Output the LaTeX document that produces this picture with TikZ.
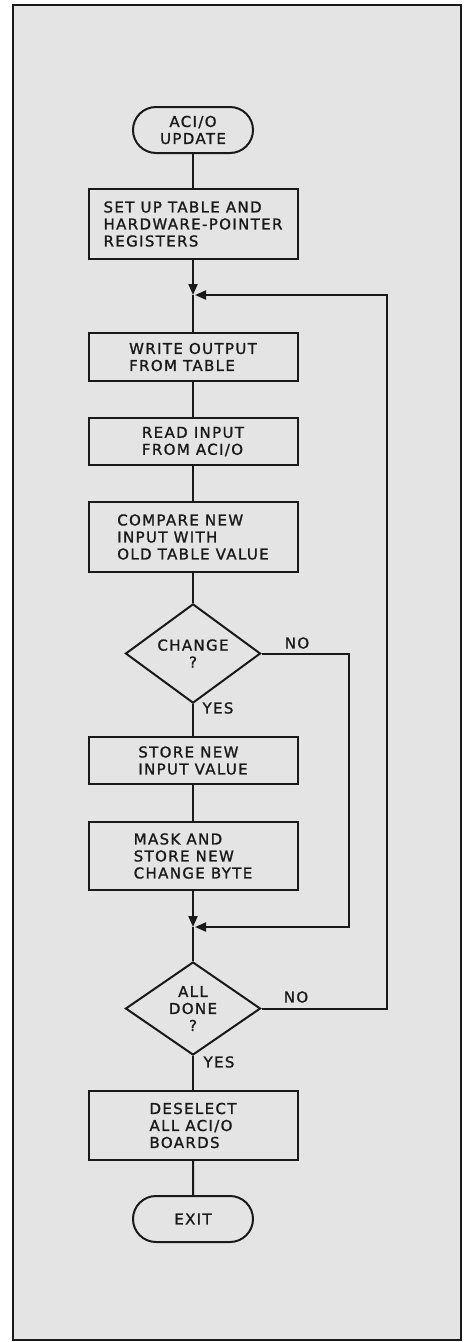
\documentclass[tikz,border=0pt]{standalone}
\usepackage{fontspec}
\setmainfont{DejaVu Sans}[LetterSpace=9,FakeBold=1.2]
\usetikzlibrary{shapes.geometric,shapes.misc,arrows.meta}
\definecolor{paper}{RGB}{228,228,228}
\definecolor{ink}{RGB}{25,25,25}
\begin{document}
\begin{tikzpicture}[x=1pt,y=-1pt,
  line width=2pt, draw=ink,
  every node/.style={font=\fontsize{15}{17}\selectfont, text=ink},
  procbox/.style={draw=ink, line width=2pt, rectangle, minimum width=209pt, inner sep=0pt, align=left},
  term/.style={draw=ink, line width=2pt, rounded rectangle, minimum width=120pt, minimum height=46pt, inner sep=0pt, align=center},
  decision/.style={draw=ink, line width=2pt, diamond, minimum width=135pt, minimum height=88pt, inner sep=0pt, align=center},
  arr/.style={-{Triangle[length=11pt,width=9pt]}},
  lbl/.style={inner sep=0pt}]
\useasboundingbox (0,0) rectangle (470,1342);
\fill[white] (0,0) rectangle (470,1342);
\draw[fill=paper, line width=2.2pt] (13,5) rectangle (461,1340);

\node[term] (start) at (193,130) {ACI/O\\UPDATE};
\node[procbox, minimum height=70pt] (b1) at (193,224) {SET UP TABLE AND\\HARDWARE-POINTER\\REGISTERS};
\coordinate (m1) at (193,295);
\node[procbox, minimum height=48pt] (b2) at (193,357) {WRITE OUTPUT\\FROM TABLE};
\node[procbox, minimum height=47pt] (b3) at (193,441.5) {READ INPUT\\FROM ACI/O};
\node[procbox, minimum height=70pt] (b4) at (193,537) {COMPARE NEW\\INPUT WITH\\OLD TABLE VALUE};
\node[decision] (d1) at (193,653.5) {CHANGE\\?};
\node[procbox, minimum height=47pt] (b5) at (193,760.5) {STORE NEW\\INPUT VALUE};
\node[procbox, minimum height=68pt] (b6) at (193,856) {MASK AND\\STORE NEW\\CHANGE BYTE};
\coordinate (m2) at (193,927);
\node[decision] (d2) at (193,1008.5) {ALL\\DONE\\?};
\node[procbox, minimum height=69pt] (b7) at (193,1125.5) {DESELECT\\ALL ACI/O\\BOARDS};
\node[term] (exit) at (193,1219) {EXIT};

\coordinate (r1) at (349,927);
\coordinate (r2) at (387,295);

\draw (start) -- (b1);
\draw[arr] (b1) -- (m1);
\draw (m1) -- (b2);
\draw (b2) -- (b3);
\draw (b3) -- (b4);
\draw (b4) -- (d1);
\draw (d1) -- (b5);
\draw (b5) -- (b6);
\draw[arr] (b6) -- (m2);
\draw[arr, shorten >=2pt] (d1.east) -| (r1) -- (m2);
\draw (m2) -- (d2);
\draw (d2) -- (b7);
\draw (b7) -- (exit);
\draw[arr, shorten >=2pt] (d2.east) -| (r2) -- (m1);

\node[lbl] (no1) at (297,643) {NO};
\node[lbl] (yes1) at (218,708) {YES};
\node[lbl] (no2) at (296,997) {NO};
\node[lbl] (yes2) at (219,1062) {YES};
\end{tikzpicture}
\end{document}
